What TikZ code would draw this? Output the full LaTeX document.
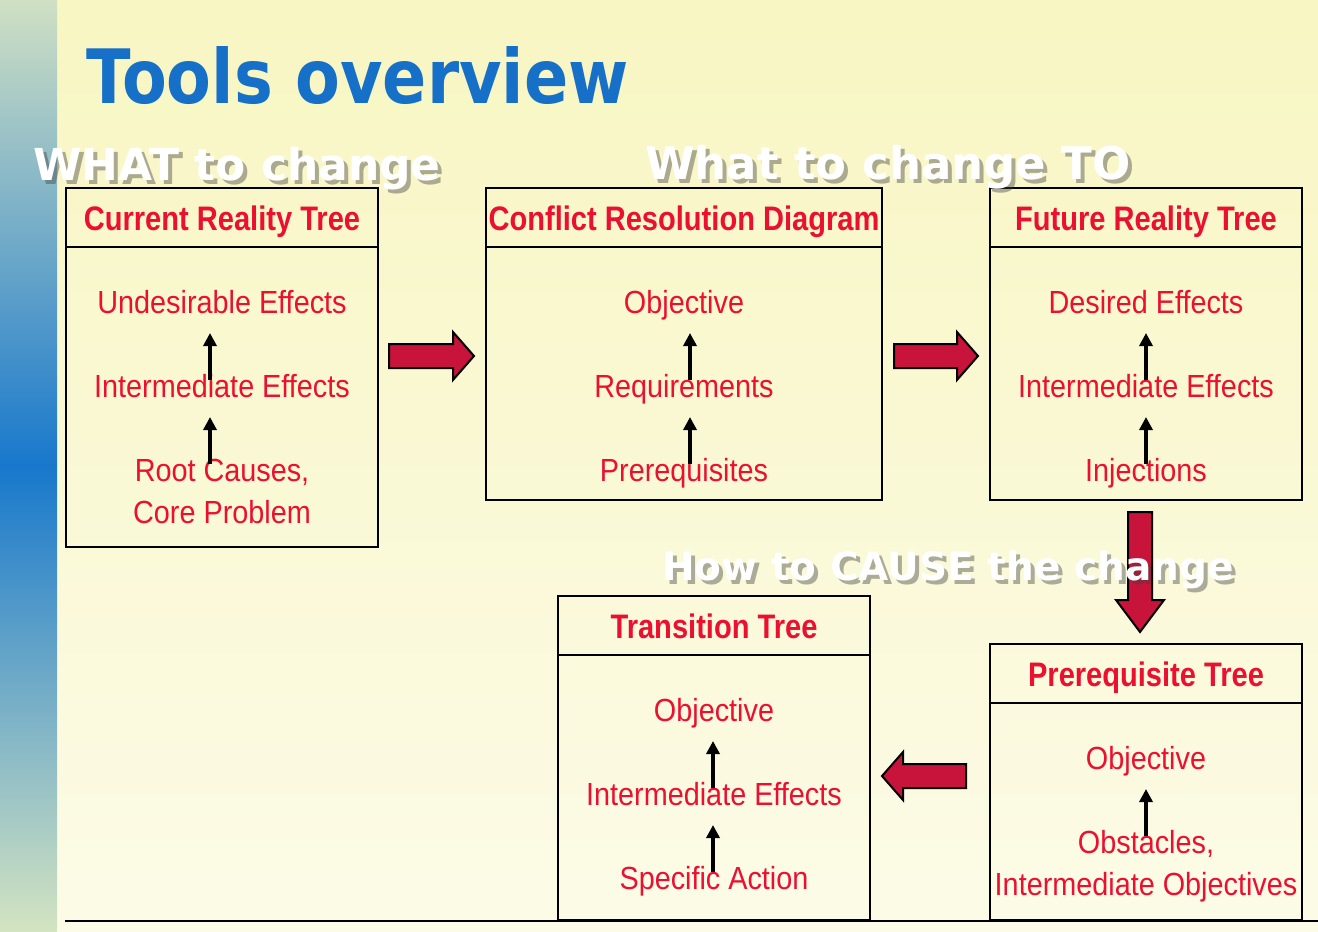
\documentclass[tikz,border=0pt]{standalone}
\usepackage{fontspec}
\setmainfont{Liberation Sans}
\newfontfamily\narrowfont[FakeStretch=0.9,BoldFeatures={FakeStretch=0.855}]{Liberation Sans}
\newfontfamily\titlefont[FakeStretch=0.87]{DejaVu Sans}
\newfontfamily\bannerfont{DejaVu Sans}
\usetikzlibrary{arrows.meta}

\definecolor{titleblue}{HTML}{1670C8}
\definecolor{itemred}{HTML}{EC1030}
\definecolor{arrowred}{HTML}{C8143A}
\definecolor{bgtop}{HTML}{F8F6C2}
\definecolor{bgbottom}{HTML}{FCFBE7}
\definecolor{bartop}{HTML}{D0E0C4}
\definecolor{barmid}{HTML}{1878CC}
\definecolor{barbottom}{HTML}{D4E4C2}

% white banner text with a drop shadow: name, x, y, size, text
\newcommand\drawbanner[5]{%
  \node[banner,text=black!75,opacity=0.42,font=\bannerfont\bfseries\fontsize{#4}{#4}\selectfont]
    (#1-shadow) at ({#2+4},{#3+4}) {#5};
  \node[banner,text=white,font=\bannerfont\bfseries\fontsize{#4}{#4}\selectfont] (#1) at (#2,#3) {#5};
}

\begin{document}
\begin{tikzpicture}[x=1pt,y=-1pt,
  treebox/.style={draw=black,line width=2pt,inner sep=0pt,minimum width=312pt},
  divider/.style={line width=2pt},
  treehead/.style={text=itemred,inner sep=0pt,anchor=base,font=\narrowfont\bfseries\fontsize{34}{38}\selectfont},
  treeitem/.style={text=itemred,inner sep=0pt,anchor=base,font=\narrowfont\fontsize{32}{36}\selectfont},
  upstep/.style={line width=3.5pt,-{Triangle[length=13pt,width=13pt]}},
  bigarrow/.style={draw=black,line width=2pt,fill=arrowred,line join=miter},
  banner/.style={inner sep=0pt,anchor=base},
]
% page background and left colour bar
\shade[top color=bgtop,bottom color=bgbottom] (0,0) rectangle (1318,932);
\shade[top color=bartop,bottom color=barbottom,middle color=barmid] (0,0) rectangle (57,932);
\useasboundingbox (0,0) rectangle (1318,932);

% title
\node[anchor=base west,inner sep=0pt,text=titleblue,font=\titlefont\bfseries\fontsize{75}{80}\selectfont]
  (title) at (86,103) {Tools overview};

% ---------- Current Reality Tree ----------
\node[treebox,minimum height=359pt] (crt) at (222,367.5) {};
\draw[divider] (crt.north west) ++(0,60) -- ++(312,0);
\node[treehead] (crt-h) at (222,230) {Current Reality Tree};
\node[treeitem] (crt-1) at (222,313) {Undesirable Effects};
\node[treeitem] (crt-2) at (222,397) {Intermediate Effects};
\node[treeitem] (crt-3) at (222,481) {Root Causes,};
\node[treeitem] (crt-3b) at (222,523) {Core Problem};
\draw[upstep] ([xshift=-12pt,yshift=17pt]crt-2.base) -- ([xshift=-12pt,yshift=-20pt]crt-1.base);
\draw[upstep] ([xshift=-12pt,yshift=17pt]crt-3.base) -- ([xshift=-12pt,yshift=-20pt]crt-2.base);

% ---------- Conflict Resolution Diagram ----------
\node[treebox,minimum width=396pt,minimum height=312pt] (crd) at (684,344) {};
\draw[divider] (crd.north west) ++(0,60) -- ++(396,0);
\node[treehead] (crd-h) at (684,230) {Conflict Resolution Diagram};
\node[treeitem] (crd-1) at (684,313) {Objective};
\node[treeitem] (crd-2) at (684,397) {Requirements};
\node[treeitem] (crd-3) at (684,481) {Prerequisites};
\draw[upstep] ([xshift=6pt,yshift=17pt]crd-2.base) -- ([xshift=6pt,yshift=-20pt]crd-1.base);
\draw[upstep] ([xshift=6pt,yshift=17pt]crd-3.base) -- ([xshift=6pt,yshift=-20pt]crd-2.base);

% ---------- Future Reality Tree ----------
\node[treebox,minimum height=312pt] (frt) at (1146,344) {};
\draw[divider] (frt.north west) ++(0,60) -- ++(312,0);
\node[treehead] (frt-h) at (1146,230) {Future Reality Tree};
\node[treeitem] (frt-1) at (1146,313) {Desired Effects};
\node[treeitem] (frt-2) at (1146,397) {Intermediate Effects};
\node[treeitem] (frt-3) at (1146,481) {Injections};
\draw[upstep] ([yshift=17pt]frt-2.base) -- ([yshift=-20pt]frt-1.base);
\draw[upstep] ([yshift=17pt]frt-3.base) -- ([yshift=-20pt]frt-2.base);

% ---------- Transition Tree ----------
\node[treebox,minimum height=324pt] (tt) at (714,758) {};
\draw[divider] (tt.north west) ++(0,60) -- ++(312,0);
\node[treehead] (tt-h) at (714,638) {Transition Tree};
\node[treeitem] (tt-1) at (714,721) {Objective};
\node[treeitem] (tt-2) at (714,805) {Intermediate Effects};
\node[treeitem] (tt-3) at (714,889) {Specific Action};
\draw[upstep] ([xshift=-1pt,yshift=17pt]tt-2.base) -- ([xshift=-1pt,yshift=-20pt]tt-1.base);
\draw[upstep] ([xshift=-1pt,yshift=17pt]tt-3.base) -- ([xshift=-1pt,yshift=-20pt]tt-2.base);

% ---------- Prerequisite Tree ----------
\node[treebox,minimum height=276pt] (pt) at (1146,782) {};
\draw[divider] (pt.north west) ++(0,60) -- ++(312,0);
\node[treehead] (pt-h) at (1146,686) {Prerequisite Tree};
\node[treeitem] (pt-1) at (1146,769) {Objective};
\node[treeitem] (pt-2) at (1146,853) {Obstacles,};
\node[treeitem] (pt-2b) at (1146,895) {Intermediate Objectives};
\draw[upstep] ([yshift=17pt]pt-2.base) -- ([yshift=-20pt]pt-1.base);

% baseline rule
\draw[divider] (tt.south west -| crt.west) -- (tt.south west -| 1318,0);

% ---------- block arrows between the trees ----------
\draw[bigarrow] (389,344) -- (453,344) -- (453,332) -- (474,356) -- (453,380) -- (453,368) -- (389,368) -- cycle;
\draw[bigarrow] (894,344) -- (957,344) -- (957,332) -- (978,356) -- (957,380) -- (957,368) -- (894,368) -- cycle;
\draw[bigarrow] (966,764) -- (903,764) -- (903,752) -- (882,776) -- (903,800) -- (903,788) -- (966,788) -- cycle;

% banners
\drawbanner{what}{237}{180}{44}{WHAT to change}
\drawbanner{whatto}{888}{179}{45}{What to change TO}

\draw[bigarrow] (1128,512) -- (1152,512) -- (1152,600) -- (1164,600) -- (1140,632) -- (1116,600) -- (1128,600) -- cycle;

\drawbanner{how}{948}{580}{39}{How to CAUSE the change}
\end{tikzpicture}
\end{document}
